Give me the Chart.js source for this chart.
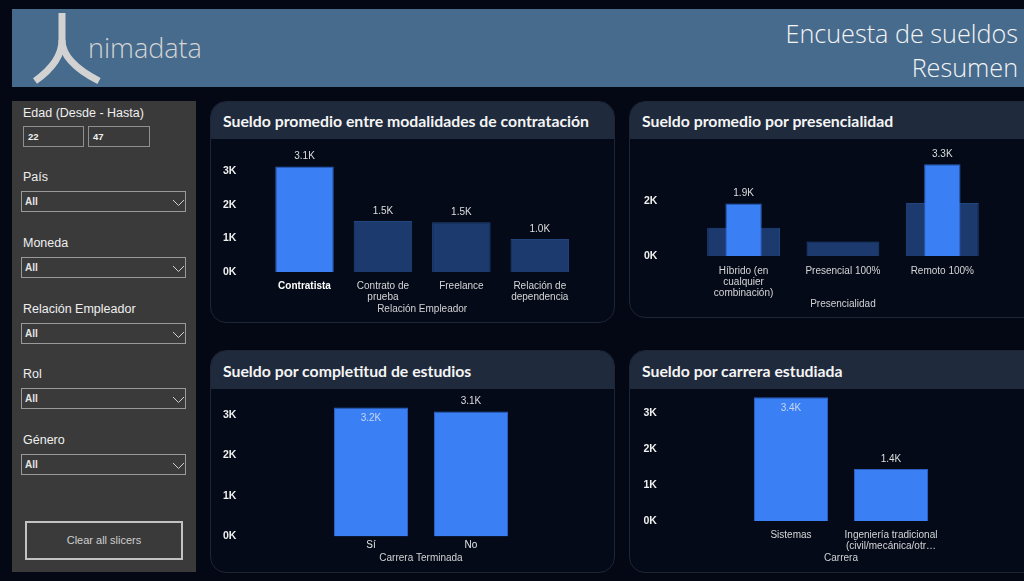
<!DOCTYPE html>
<html><head><meta charset="utf-8">
<script src="https://cdn.jsdelivr.net/npm/chart.js@4.4.1/dist/chart.umd.min.js"></script>
<style>
html,body{margin:0;padding:0;background:#030814;width:1024px;height:581px;overflow:hidden;font-family:"Liberation Sans",Arial,sans-serif;}
.abs{position:absolute;}
#header{left:12px;top:9px;width:1020px;height:78px;background:#476b8d;}
.htitle{right:6px;font-family:"Open Sans",sans-serif;font-weight:300;font-size:25.2px;color:#f4f4f4;line-height:30px;white-space:nowrap;}
#brand{left:88px;top:30px;font-family:"Open Sans",sans-serif;font-weight:300;font-size:27px;color:#d4d4d4;line-height:36px;}
#side{left:12px;top:101px;width:184px;height:471px;background:#3a3a3a;}
.slab{left:23px;font-size:12.5px;color:#efefef;line-height:16px;white-space:nowrap;}
.dd{left:21px;width:165px;height:19px;border:1px solid #9a9a9a;box-sizing:border-box;}
.dd span{position:absolute;left:3px;top:4px;font-size:10px;font-weight:bold;color:#e4e4e4;}
.box{height:21px;border:1px solid #8f8f8f;box-sizing:border-box;top:126px;}
.box span{position:absolute;left:4px;top:4px;font-size:9.5px;font-weight:bold;color:#f0f0f0;}
#btn{left:25px;top:521px;width:158px;height:39px;border:2px solid #c2c2c2;box-sizing:border-box;color:#cfcfcf;font-size:11px;text-align:center;line-height:35px;}
.panel{border:1px solid #1e2535;border-radius:16px;background:#040a18;overflow:hidden;box-sizing:border-box;}
.ptitle{background:#1f2a3c;color:#f5f5f5;font-family:"Lato",sans-serif;font-weight:700;font-size:15.8px;padding-left:12px;white-space:nowrap;}
canvas{position:absolute;}
</style></head>
<body>
<div id="header" class="abs"></div>
<svg class="abs" style="left:0;top:0" width="120" height="95">
  <path d="M62 13 L62 40 Q62 62 35 81" stroke="#d2d2d2" stroke-width="7" fill="none"/>
  <path d="M62 40 Q62 62 99 81" stroke="#d2d2d2" stroke-width="7" fill="none"/>
</svg>
<div id="brand" class="abs">nimadata</div>
<div class="abs htitle" style="top:18px">Encuesta de sueldos</div>
<div class="abs htitle" style="top:52px">Resumen</div>

<div id="side" class="abs"></div>
<div class="abs slab" style="top:105px">Edad (Desde - Hasta)</div>
<div class="abs box" style="left:23px;width:61px"><span>22</span></div>
<div class="abs box" style="left:88px;width:62px"><span>47</span></div>
<div id="slicers"></div>
<div id="btn" class="abs">Clear all slicers</div>

<div class="abs panel" style="left:210px;top:101px;width:405px;height:222px"><div class="ptitle" style="height:37px;line-height:38px">Sueldo promedio entre modalidades de contratación</div></div>
<div class="abs panel" style="left:629px;top:101px;width:420px;height:217px"><div class="ptitle" style="height:37px;line-height:38px">Sueldo promedio por presencialidad</div></div>
<div class="abs panel" style="left:210px;top:350px;width:405px;height:223px"><div class="ptitle" style="height:38px;line-height:40px">Sueldo por completitud de estudios</div></div>
<div class="abs panel" style="left:629px;top:350px;width:420px;height:223px"><div class="ptitle" style="height:38px;line-height:40px">Sueldo por carrera estudiada</div></div>

<canvas id="c1"></canvas>
<canvas id="c2"></canvas>
<canvas id="c3"></canvas>
<canvas id="c4"></canvas>

<script>
// ---------- data ----------
const SLICERS = ['País', 'Moneda', 'Relación Empleador', 'Rol', 'Género'];
const SLICER_VALUE = 'All';

const CAT_CONTRATACION = ['Contratista', ['Contrato de', 'prueba'], 'Freelance', ['Relación de', 'dependencia']];
const SUELDO_CONTRATACION = [3140, 1520, 1480, 980];

const CAT_PRESENCIALIDAD = [['Híbrido (en', 'cualquier', 'combinación)'], 'Presencial 100%', 'Remoto 100%'];
const SUELDO_PRESENCIALIDAD = [1910, null, 3340];
const SUELDO_PRESENCIALIDAD_FONDO = [1030, 530, 1930];

const CAT_ESTUDIOS = ['Sí', 'No'];
const SUELDO_ESTUDIOS = [3180, 3080];

const CAT_CARRERA = ['Sistemas', ['Ingeniería tradicional', '(civil/mecánica/otr…']];
const SUELDO_CARRERA = [3430, 1440];

const TICKS_1K = [0, 1000, 2000, 3000];
const TICKS_2K = [0, 2000];

// ---------- slicers ----------
const slicerTops = [177, 243, 309, 374, 440];
const sl = document.getElementById('slicers');
SLICERS.forEach((name, i) => {
  const t = slicerTops[i];
  sl.insertAdjacentHTML('beforeend',
    `<div class="abs slab" style="top:${t - 8}px">${name}</div>` +
    `<div class="abs dd" style="top:${t + 14}px;height:21px"><span>${SLICER_VALUE}</span>` +
    `<svg style="position:absolute;left:150px;top:7px" width="14" height="8"><polyline points="1,1 6.5,6.5 12,1" stroke="#d0d0d0" stroke-width="1" fill="none"/></svg></div>`);
});

// ---------- charts ----------
const BRIGHT = '#3a80f4', BRIGHT_B = '#2a5fbf';
const DARK = '#1c3a6e', DARK_B = '#22457f';
const FONT = '"Liberation Sans", Arial, sans-serif';

const valueLabels = {
  id: 'valueLabels',
  afterDatasetsDraw(chart) {
    const { ctx, chartArea } = chart;
    ctx.save();
    ctx.font = '10px ' + FONT;
    ctx.textAlign = 'center';
    ctx.textBaseline = 'middle';
    chart.data.datasets.forEach((ds, di) => {
      if (!ds.showLabels) return;
      chart.getDatasetMeta(di).data.forEach((bar, i) => {
        const v = ds.data[i];
        if (v == null) return;
        const txt = (v / 1000).toFixed(1) + 'K';
        if (bar.y - 14 < chartArea.top) {
          ctx.fillStyle = '#c9d6f2';
          ctx.fillText(txt, bar.x, bar.y + 11);
        } else {
          ctx.fillStyle = '#dedede';
          ctx.fillText(txt, bar.x, bar.y - 10);
        }
      });
    });
    ctx.restore();
  }
};

function build(id, g, labels, datasets, ticks, axisTitle, tickColor, tickFont) {
  const cv = document.getElementById(id);
  cv.width = g.w; cv.height = g.h;
  cv.style.left = g.x + 'px'; cv.style.top = g.y + 'px';
  const areaTop = g.zeroY - g.ymax / 1000 * g.pxPerK;
  const xBottom = g.titleY + 6;
  new Chart(cv, {
    type: 'bar',
    data: { labels, datasets },
    plugins: [valueLabels],
    options: {
      responsive: false, animation: false, devicePixelRatio: 1,
      layout: { padding: { left: g.tickX - g.x, top: areaTop - g.y, right: g.x + g.w - g.right, bottom: g.y + g.h - xBottom } },
      plugins: { legend: { display: false }, tooltip: { enabled: false } },
      scales: {
        x: {
          grid: { display: false, drawTicks: false }, border: { display: false },
          ticks: { padding: g.tickPad, color: tickColor, font: tickFont, maxRotation: 0, autoSkip: false },
          title: { display: true, text: axisTitle, color: '#d2d2d2', font: { family: FONT, size: 10, lineHeight: 1.2 }, padding: 0 },
          afterFit: s => { s.height = xBottom - g.zeroY; }
        },
        y: {
          min: 0, max: g.ymax,
          grid: { display: false, drawTicks: false }, border: { display: false },
          afterBuildTicks: s => { s.ticks = ticks.map(v => ({ value: v })); },
          ticks: { crossAlign: 'far', padding: 0, color: '#f0f0f0', font: { family: FONT, size: 10.5, weight: 'bold' }, callback: v => (v / 1000) + 'K' },
          afterFit: s => { s.width = g.left - g.tickX; }
        }
      }
    }
  });
}

const normalTick = { family: FONT, size: 10, lineHeight: 1.1 };
const boldTick = { family: FONT, size: 10, lineHeight: 1.1, weight: 'bold' };

build('c1', { x: 210, y: 138, w: 405, h: 185, tickX: 223, left: 265.3, right: 579, zeroY: 272, pxPerK: 34.67, ymax: 3800, titleY: 309.3, tickPad: 8.8 },
  CAT_CONTRATACION,
  [{ data: SUELDO_CONTRATACION, showLabels: true, backgroundColor: [BRIGHT, DARK, DARK, DARK], borderColor: [BRIGHT_B, DARK_B, DARK_B, DARK_B], borderWidth: 1, categoryPercentage: 1, barPercentage: 0.746 }],
  TICKS_1K, 'Relación Empleador',
  c => c.index === 0 ? '#ffffff' : '#d6d6d6',
  c => c.index === 0 ? boldTick : normalTick);

build('c2', { x: 629, y: 138, w: 395, h: 180, tickX: 644, left: 693.9, right: 992, zeroY: 256, pxPerK: 27.5, ymax: 3950, titleY: 304.3, tickPad: 9.7 },
  CAT_PRESENCIALIDAD,
  [{ data: SUELDO_PRESENCIALIDAD, showLabels: true, backgroundColor: BRIGHT, borderColor: BRIGHT_B, borderWidth: 1, categoryPercentage: 1, barPercentage: 0.366, grouped: false, order: 0 },
   { data: SUELDO_PRESENCIALIDAD_FONDO, backgroundColor: DARK, borderColor: DARK_B, borderWidth: 1, categoryPercentage: 1, barPercentage: 0.733, grouped: false, order: 1 }],
  TICKS_2K, 'Presencialidad', '#d6d6d6', normalTick);

build('c3', { x: 210, y: 388, w: 405, h: 185, tickX: 223, left: 321, right: 521, zeroY: 536.5, pxPerK: 40.6, ymax: 3500, titleY: 558.3, tickPad: 3.5 },
  CAT_ESTUDIOS,
  [{ data: SUELDO_ESTUDIOS, showLabels: true, backgroundColor: BRIGHT, borderColor: BRIGHT_B, borderWidth: 1, categoryPercentage: 1, barPercentage: 0.74 }],
  TICKS_1K, 'Carrera Terminada', '#e6e6e6', normalTick);

build('c4', { x: 629, y: 388, w: 395, h: 185, tickX: 643.5, left: 741, right: 941, zeroY: 521, pxPerK: 36.1, ymax: 3500, titleY: 558.3, tickPad: 9.2 },
  CAT_CARRERA,
  [{ data: SUELDO_CARRERA, showLabels: true, backgroundColor: BRIGHT, borderColor: BRIGHT_B, borderWidth: 1, categoryPercentage: 1, barPercentage: 0.74 }],
  TICKS_1K, 'Carrera', '#d6d6d6', normalTick);
</script>
</body></html>
